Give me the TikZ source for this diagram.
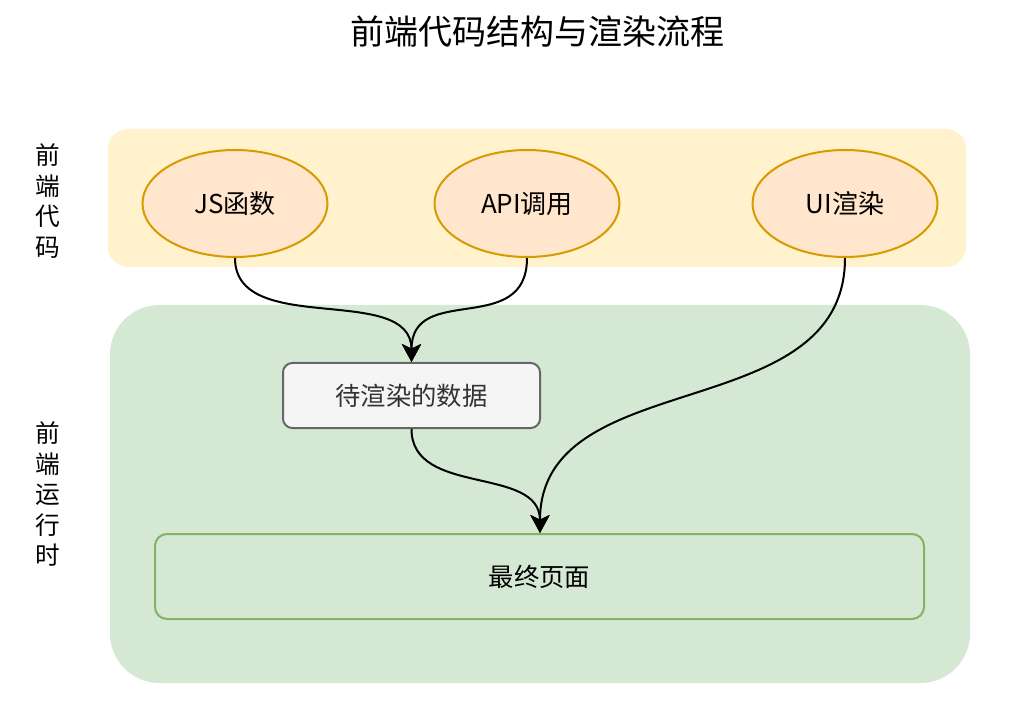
\documentclass[tikz,border=0pt]{standalone}
\usepackage{fontspec}
\setmainfont{Noto Sans CJK SC}
\usetikzlibrary{shapes.geometric,arrows.meta,calc}

\definecolor{bandyellow}{HTML}{FFF2CC}
\definecolor{bandgreen}{HTML}{D5E8D4}
\definecolor{ovalfill}{HTML}{FFE6CC}
\definecolor{ovalline}{HTML}{D79B00}
\definecolor{greyfill}{HTML}{F5F5F5}
\definecolor{greyline}{HTML}{666666}
\definecolor{greytext}{HTML}{333333}
\definecolor{greenline}{HTML}{82B366}

\tikzset{
  band/.style={draw=none, inner sep=0pt, outer sep=0pt},
  oval/.style={ellipse, draw=ovalline, fill=ovalfill, line width=1.5pt,
    minimum width=138.75pt, minimum height=80.25pt, inner sep=0pt,
    font=\fontsize{19.5}{23}\selectfont},
  databox/.style={draw=greyline, fill=greyfill, line width=1.5pt,
    rounded corners=7pt, minimum width=192.75pt, minimum height=48.75pt,
    inner sep=0pt, text=greytext, font=\fontsize{19}{23}\selectfont},
  pagebox/.style={draw=greenline, fill=bandgreen, line width=1.5pt,
    rounded corners=9pt, minimum width=576.75pt, minimum height=63.75pt,
    inner sep=0pt, font=\fontsize{19}{23}\selectfont},
  sidelabel/.style={align=center, inner sep=0pt,
    font=\fontsize{18.5}{22.9}\selectfont},
  flow/.style={line width=1.5pt, -{Stealth[length=13.5pt, width=14.5pt, inset=3.5pt]}},
}

\begin{document}
\begin{tikzpicture}[x=0.75pt, y=-0.75pt]
  \useasboundingbox (0,0) rectangle (1018,702);

  % title
  \node[font=\fontsize{25.5}{30}\selectfont, inner sep=0pt] (title) at (537,32) {前端代码结构与渲染流程};

  % background bands
  \node[band, fill=bandyellow, rounded corners=15pt,
        minimum width=643.5pt, minimum height=103.5pt] (codeband) at (537,198) {};
  \node[band, fill=bandgreen, rounded corners=37pt,
        minimum width=645pt, minimum height=283.5pt] (runband) at (540,494) {};

  % row labels
  \node[sidelabel] (codelabel) at (48,201) {前\\端\\代\\码};
  \node[sidelabel] (runlabel) at (48,494) {前\\端\\运\\行\\时};

  % source parts
  \node[oval] (js) at (235,203.5) {JS函数};
  \node[oval] (api) at (527,203.5) {API调用};
  \node[oval] (ui) at (845,203.5) {UI渲染};

  % runtime parts
  \node[databox] (data) at (411.5,395.5) {待渲染的数据};
  \node[pagebox] (page) at (539.5,576.5) {最终页面};

  % flows
  \draw[flow] (js.south) .. controls ($(js.south)+(0,80)$) and ($(data.north)+(0,-80)$) .. (data.north);
  \draw[flow] (api.south) .. controls ($(api.south)+(0,80)$) and ($(data.north)+(0,-80)$) .. (data.north);
  \draw[flow] (data.south) .. controls ($(data.south)+(0,68)$) and ($(page.north)+(0.5,-68)$) .. ($(page.north)+(0.5,0)$);
  \draw[flow] (ui.south) .. controls ($(ui.south)+(0,170)$) and ($(page.north)+(0.5,-170)$) .. ($(page.north)+(0.5,0)$);
\end{tikzpicture}
\end{document}
